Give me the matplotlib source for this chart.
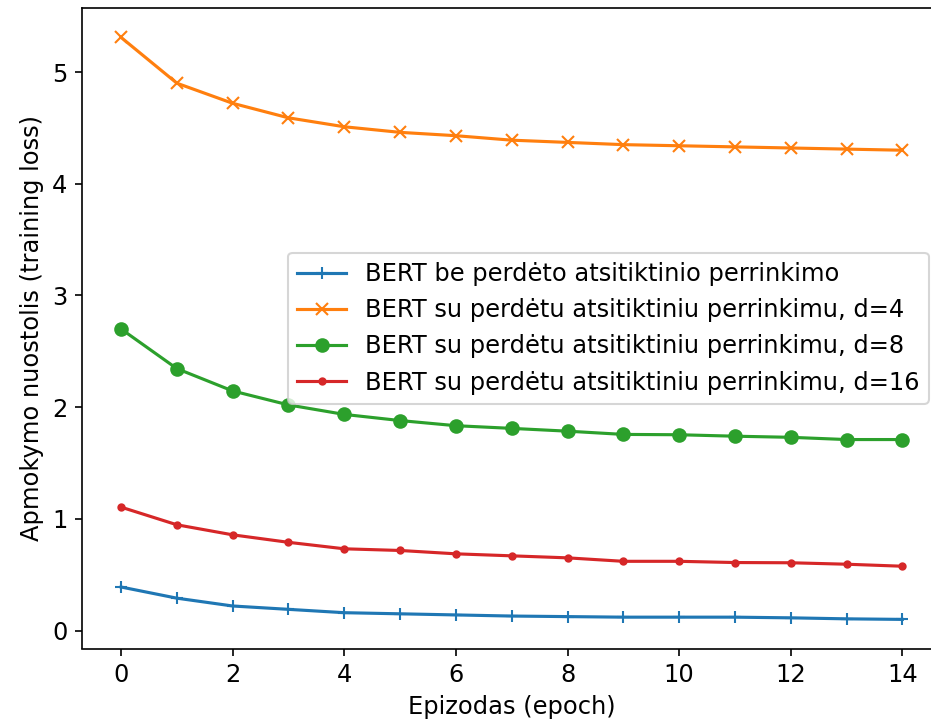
import matplotlib
matplotlib.use("Agg")
import matplotlib.pyplot as plt

epochs = list(range(15))

loss_no_oversampling = [0.39, 0.29, 0.22, 0.19, 0.16, 0.15, 0.14, 0.13, 0.125,
                        0.12, 0.12, 0.12, 0.114, 0.105, 0.10]
loss_d4 = [5.31, 4.90, 4.72, 4.59, 4.51, 4.46, 4.43, 4.39, 4.37,
           4.35, 4.34, 4.33, 4.32, 4.31, 4.30]
loss_d8 = [2.70, 2.345, 2.145, 2.02, 1.935, 1.88, 1.834, 1.81, 1.785,
           1.756, 1.753, 1.74, 1.73, 1.71, 1.71]
loss_d16 = [1.105, 0.947, 0.857, 0.79, 0.732, 0.717, 0.687, 0.669, 0.651,
            0.62, 0.62, 0.609, 0.607, 0.594, 0.576]

labels = [
    "BERT be perdėto atsitiktinio perrinkimo",
    "BERT su perdėtu atsitiktiniu perrinkimu, d=4",
    "BERT su perdėtu atsitiktiniu perrinkimu, d=8",
    "BERT su perdėtu atsitiktiniu perrinkimu, d=16",
]

plt.rcParams["font.size"] = 11.6

dpi = 150
fig = plt.figure(figsize=(932 / dpi, 727 / dpi), dpi=dpi)
ax = fig.add_axes([82 / 932, 1 - 648.5 / 727, (941.4 - 82) / 932, (648.5 - 8.3) / 727])

ax.plot(epochs, loss_no_oversampling, marker="+", label=labels[0])
ax.plot(epochs, loss_d4, marker="x", label=labels[1])
ax.plot(epochs, loss_d8, marker="o", label=labels[2])
ax.plot(epochs, loss_d16, marker=".", label=labels[3])

ax.set_xticks(range(0, 15, 2))
ax.set_xlabel("Epizodas (epoch)")
ax.set_ylabel("Apmokymo nuostolis (training loss)")
ax.legend(loc="center right")

fig.savefig("out.png", dpi=dpi)
